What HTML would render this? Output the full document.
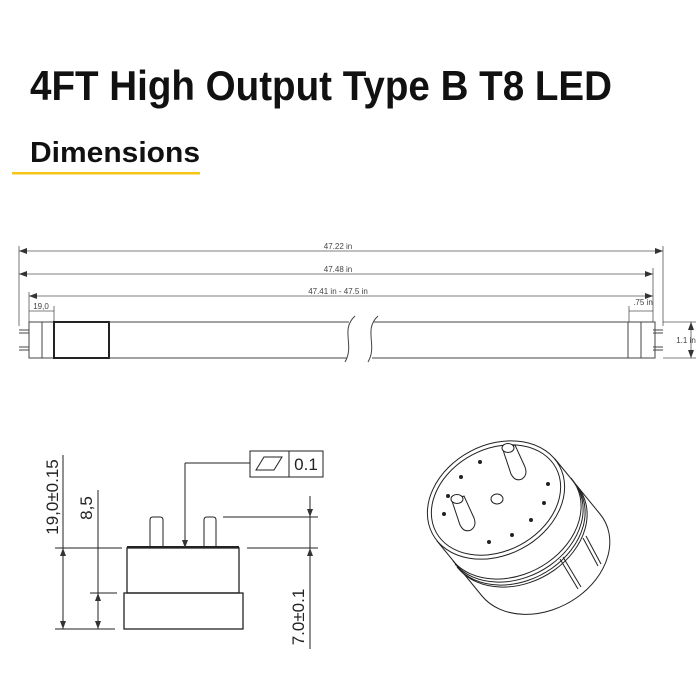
<!DOCTYPE html>
<html><head><meta charset="utf-8"><style>
html,body{margin:0;padding:0;background:#fff;}
svg{display:block}
</style></head><body>
<svg width="700" height="700" viewBox="0 0 700 700" xmlns="http://www.w3.org/2000/svg" font-family="Liberation Sans, Arial, sans-serif">
<defs>
<marker id="a" markerWidth="8" markerHeight="6" refX="8" refY="3" orient="auto-start-reverse" markerUnits="userSpaceOnUse"><path d="M0,0 L8,3 L0,6 z" fill="#333"/></marker>
</defs>
<text x="30" y="100" font-size="42" font-weight="bold" fill="#111" textLength="582" lengthAdjust="spacingAndGlyphs">4FT High Output Type B T8 LED</text>
<text x="30" y="162" font-size="29" font-weight="bold" fill="#111" textLength="170" lengthAdjust="spacingAndGlyphs">Dimensions</text>
<rect x="12" y="172" width="188" height="2.5" fill="#f5c518"/>

<g stroke="#555" stroke-width="0.8" fill="none">
<line x1="19" y1="246" x2="19" y2="326"/>
<line x1="663" y1="246" x2="663" y2="326"/>
<line x1="653" y1="268" x2="653" y2="322"/>
<line x1="29" y1="292" x2="29" y2="322"/>
<line x1="54" y1="306" x2="54" y2="322"/>
<line x1="629" y1="306" x2="629" y2="322"/>
<line x1="19" y1="251" x2="663" y2="251" marker-start="url(#a)" marker-end="url(#a)"/>
<line x1="19" y1="274" x2="653" y2="274" marker-start="url(#a)" marker-end="url(#a)"/>
<line x1="29" y1="296" x2="653" y2="296" marker-start="url(#a)" marker-end="url(#a)"/>
<line x1="29" y1="311" x2="54" y2="311"/>
<line x1="629" y1="311" x2="653" y2="311"/>
<line x1="663" y1="322" x2="696" y2="322"/>
<line x1="663" y1="358" x2="696" y2="358"/>
<line x1="691" y1="322" x2="691" y2="358" marker-start="url(#a)" marker-end="url(#a)"/>
</g>
<g font-size="8" fill="#444" text-anchor="middle">
<text x="338" y="249">47.22 in</text>
<text x="338" y="272">47.48 in</text>
<text x="338" y="294">47.41 in - 47.5 in</text>
<text x="41" y="309">19,0</text>
<text x="643" y="305">.75 in</text>
<text x="686" y="343">1.1 in</text>
</g>
<g stroke="#444" stroke-width="1" fill="none">
<line x1="19" y1="330" x2="29" y2="330"/><line x1="19" y1="333" x2="29" y2="333"/>
<line x1="19" y1="347" x2="29" y2="347"/><line x1="19" y1="350" x2="29" y2="350"/>
<line x1="653" y1="330" x2="663" y2="330"/><line x1="653" y1="333" x2="663" y2="333"/>
<line x1="653" y1="347" x2="663" y2="347"/><line x1="653" y1="350" x2="663" y2="350"/>
<rect x="29" y="322" width="25" height="36"/>
<line x1="42" y1="322" x2="42" y2="358"/>
<rect x="54" y="322" width="55" height="36" stroke-width="2" stroke="#222"/>
<line x1="109" y1="322" x2="349" y2="322"/><line x1="109" y1="358" x2="347" y2="358"/>
<line x1="374" y1="322" x2="629" y2="322"/><line x1="372" y1="358" x2="629" y2="358"/>
<rect x="628" y="322" width="27" height="36"/>
<line x1="641" y1="322" x2="641" y2="358"/>
<path d="M355,316 C340,330 355,345 345,362"/>
<path d="M378,316 C363,330 378,345 368,362"/>
</g>

<g stroke="#222" stroke-width="1" fill="none">
<line x1="63" y1="455" x2="63" y2="629"/>
<line x1="98" y1="490" x2="98" y2="629"/>
<line x1="55" y1="548" x2="122" y2="548"/>
<line x1="90" y1="593" x2="117" y2="593"/>
<line x1="55" y1="629" x2="115" y2="629"/>
<line x1="63" y1="548" x2="63" y2="629" marker-start="url(#a)" marker-end="url(#a)"/>
<line x1="98" y1="593" x2="98" y2="629" marker-start="url(#a)" marker-end="url(#a)"/>
<rect x="127" y="548" width="112" height="45" stroke-width="1.3"/>
<rect x="124" y="593" width="119" height="36" stroke-width="1.3"/>
<line x1="127" y1="547" x2="239" y2="547" stroke-width="2"/>
<path d="M150,548 V520 Q150,517 153,517 H160 Q163,517 163,520 V548"/>
<path d="M204,548 V520 Q204,517 207,517 H213 Q216,517 216,520 V548"/>
<line x1="250" y1="463" x2="185" y2="463"/>
<line x1="185" y1="463" x2="185" y2="548" marker-end="url(#a)"/>
<rect x="250" y="451" width="73" height="26"/>
<line x1="289" y1="451" x2="289" y2="477"/>
<path d="M256,470 L264,457 L282,457 L274,470 z"/>
<line x1="310" y1="496" x2="310" y2="649"/>
<line x1="223" y1="517" x2="318" y2="517"/>
<line x1="247" y1="548" x2="318" y2="548"/>
<line x1="310" y1="505" x2="310" y2="517" marker-end="url(#a)"/>
<line x1="310" y1="560" x2="310" y2="548" marker-end="url(#a)"/>
</g>
<g font-size="17" fill="#222" text-anchor="middle">
<text x="306" y="470">0.1</text>
<text transform="translate(58,497) rotate(-90)">19,0±0.15</text>
<text transform="translate(92,508) rotate(-90)">8,5</text>
<text transform="translate(304,617) rotate(-90)">7.0±0.1</text>
</g>

<g stroke="#222" stroke-width="1" fill="#fff">
<path d="M555,459 L600,514 A72,55 -28 0 1 482,596 L437,541 Z"/>
<g fill="none">
<path d="M571,478 A72,55 -28 0 1 453,561"/>
<path d="M573,481 A72,55 -28 0 1 455,564"/>
<path d="M575,484 A72,55 -28 0 1 457,567"/>
<path d="M577,486 A72,55 -28 0 1 459,569"/>
<line x1="560" y1="559" x2="578" y2="589"/><line x1="563" y1="557" x2="581" y2="587"/>
<line x1="583" y1="538" x2="598" y2="566"/><line x1="586" y1="536" x2="601" y2="564"/>
</g>
<ellipse cx="496" cy="500" rx="72" ry="55" transform="rotate(-28 496 500)"/>
<ellipse cx="496" cy="500" rx="68" ry="51" transform="rotate(-28 496 500)" fill="none"/>
<ellipse cx="497" cy="499" rx="6" ry="5" fill="none"/>
<path d="M503,450 L511,474 Q515,482 522,479 Q528,475 525,467 L515,445 Z"/>
<ellipse cx="508" cy="448" rx="6" ry="4.5"/>
<path d="M452,501 L460,525 Q464,533 471,530 Q477,526 474,518 L464,496 Z"/>
<ellipse cx="457" cy="499" rx="6" ry="4.5"/>
</g>
<g fill="#222">
<circle cx="480" cy="462" r="2"/><circle cx="461" cy="477" r="2"/><circle cx="448" cy="496" r="2"/>
<circle cx="444" cy="514" r="2"/><circle cx="489" cy="542" r="2"/><circle cx="512" cy="535" r="2"/>
<circle cx="531" cy="520" r="2"/><circle cx="544" cy="503" r="2"/><circle cx="548" cy="484" r="2"/>
</g>
</svg>
</body></html>
